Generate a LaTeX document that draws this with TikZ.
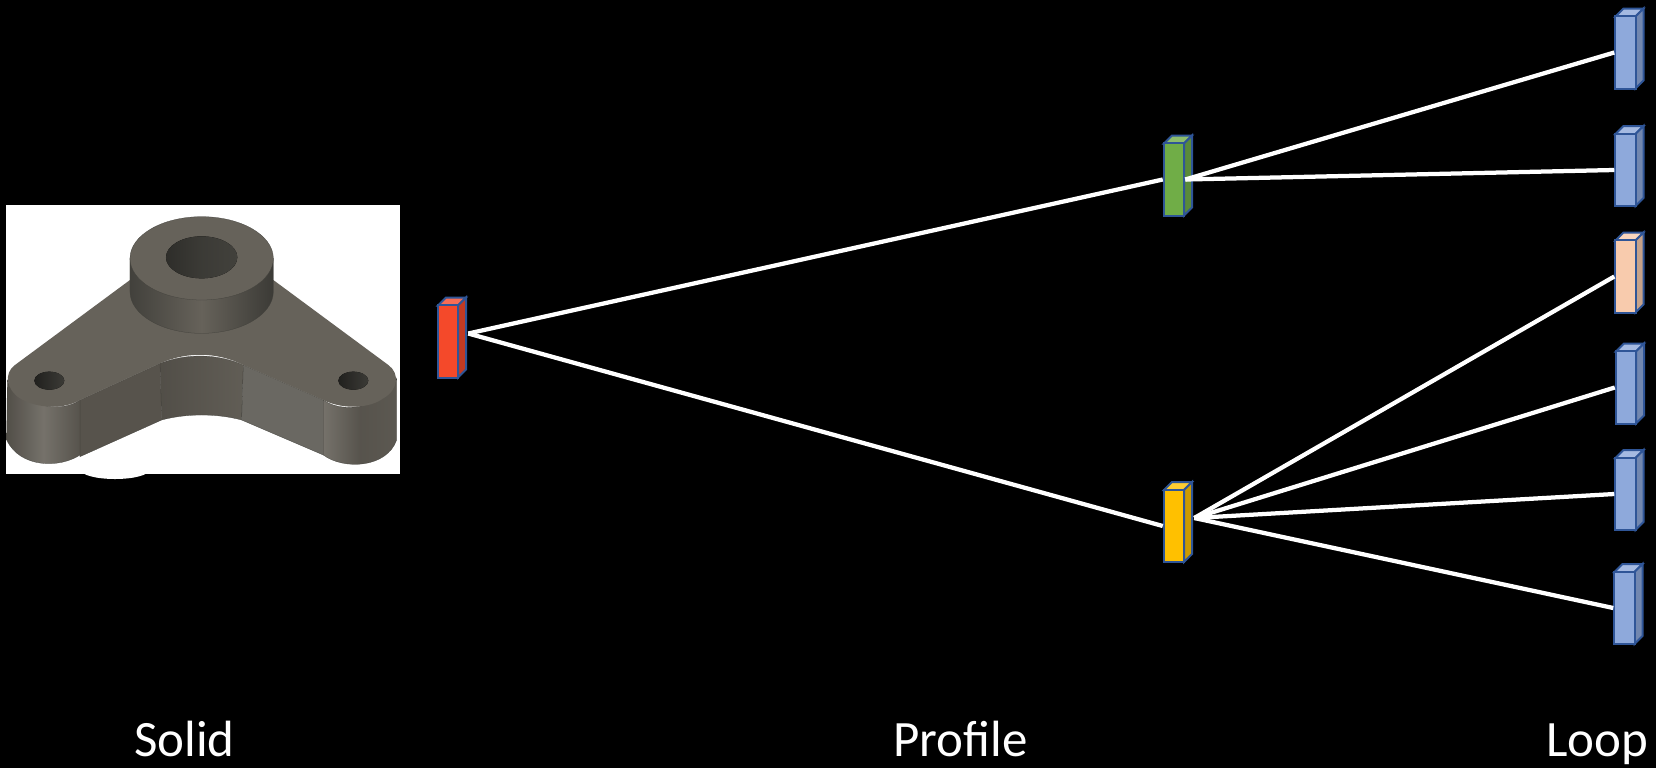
\documentclass[tikz,border=0pt]{standalone}
\usepackage{fontspec}
\setmainfont{Carlito}
\usetikzlibrary{positioning}
\definecolor{boxedge}{HTML}{2F5597}
\definecolor{solidred}{HTML}{F4492A}
\definecolor{profgreen}{HTML}{70AD47}
\definecolor{profyellow}{HTML}{FFC000}
\definecolor{loopblue}{HTML}{8EA9DB}
\definecolor{looppeach}{HTML}{F8CBAD}
\definecolor{parttop}{HTML}{66625A}
\definecolor{partedge}{HTML}{42413C}
\begin{document}
\begin{tikzpicture}[x=0.02cm,y=-0.02cm,
	boxedge/.style={draw=boxedge,line width=0.04cm,line join=miter},
	frontface/.style={boxedge,minimum width=0.41cm,minimum height=1.45cm,inner sep=0pt,outer sep=0.02cm},
	link/.style={white,line width=0.085cm},
	caption/.style={white,anchor=base,font=\fontsize{29}{32}\selectfont},
	facet/.style={draw=partedge,line width=0.15pt}]
		\useasboundingbox (0,0) rectangle (1656,768);
		\fill[black] (0,0) rectangle (1656,768);
		\fill[white] (115,470) ellipse [x radius=34,y radius=9];
		\fill[white] (6,205) rectangle (400,474);
		\begin{scope}[shift={(0,190)},x=0.02cm/3,y=-0.02cm/3]
			\draw[facet,left color=parttop!80!black,right color=parttop!95!black] (480,520) .. controls (560,490) and (650,490) .. (730,525) -- (725,690) .. controls (650,670) and (560,670) .. (485,690) -- cycle;
			\draw[facet,fill=parttop!85!black] (240,630) -- (480,520) -- (485,690) -- (240,800) -- cycle;
			\draw[facet,fill=parttop!80!white!80!black] (730,525) -- (970,630) -- (970,795) -- (725,690) -- cycle;
			\draw[facet,left color=parttop!80!black,right color=parttop!85!black,middle color=parttop!90!white] (22,570) .. controls (40,630) and (170,680) .. (240,630) -- (240,795) .. controls (180,835) and (60,835) .. (20,750) -- cycle;
			\draw[facet,left color=parttop!90!white,right color=parttop!90!black,middle color=parttop!85!black] (970,630) .. controls (1040,680) and (1170,640) .. (1190,565) -- (1190,750) .. controls (1160,835) and (1030,840) .. (970,795) -- cycle;
			\fill[parttop] (390,270) -- (45,525) .. controls (10,550) and (20,600) .. (60,625) .. controls (110,655) and (190,660) .. (240,630) -- (480,520) .. controls (560,485) and (650,485) .. (730,525) -- (970,630) .. controls (1030,660) and (1110,655) .. (1150,625) .. controls (1195,600) and (1200,550) .. (1165,525) -- (820,270) -- cycle;
			\draw[facet,left color=partedge,right color=partedge!90!black,middle color=parttop] (390,205) -- (390,305) arc (180:0:215 and 125) -- (820,205) -- cycle;
			\draw[facet,fill=parttop] (605,205) ellipse [x radius=215,y radius=125];
			\fill[left color=partedge!70!black,right color=partedge,middle color=partedge!90!black] (605,202) ellipse [x radius=107,y radius=63];
			\foreach \X in {148,1060}
			{\fill[left color=partedge!50!black,right color=partedge!90!black,middle color=partedge!70!black] (\X,572) ellipse [x radius=45,y radius=27];}
		\end{scope}
		\foreach \N/\X/\Y/\C in {solid/448/341.5/solidred,green/1174/179.5/profgreen,yellow/1174/526/profyellow,
			loopa/1625.5/52.5/loopblue,loopb/1625.5/170/loopblue,loopc/1625.5/276.5/looppeach,
			loopd/1626/387.5/loopblue,loope/1625.5/494/loopblue,loopf/1624.5/608/loopblue}
		{\draw[boxedge,fill=\C!80!white] ({\X-10},{\Y-36}) -- ++(8,-8) -- ++(20,0) -- ++(-8,8) -- cycle;
		\draw[boxedge,fill=\C!80!black] ({\X+10},{\Y-36}) -- ++(8,-8) -- ++(0,72) -- ++(-8,8) -- cycle;
		\node[frontface,fill=\C] (\N) at (\X,\Y) {};
		\coordinate (\N-out) at ([shift={(9,-8)}]\N.east);}
		\draw[link] (solid-out) -- (green.west);
		\draw[link] (solid-out) -- (yellow.west);
		\foreach \X in {loopa,loopb}
		{\draw[link] (green.east) -- (\X.west);}
		\foreach \X in {loopc,loopd,loope,loopf}
		{\draw[link] (yellow-out) -- (\X.west);}
		\node[caption] (solidlabel) at (184.5,756) {Solid};
		\node[caption] (profilelabel) at (960.5,756) {Profile};
		\node[caption] (looplabel) at (1597,756) {Loop};
	   \end{tikzpicture}
\end{document}
